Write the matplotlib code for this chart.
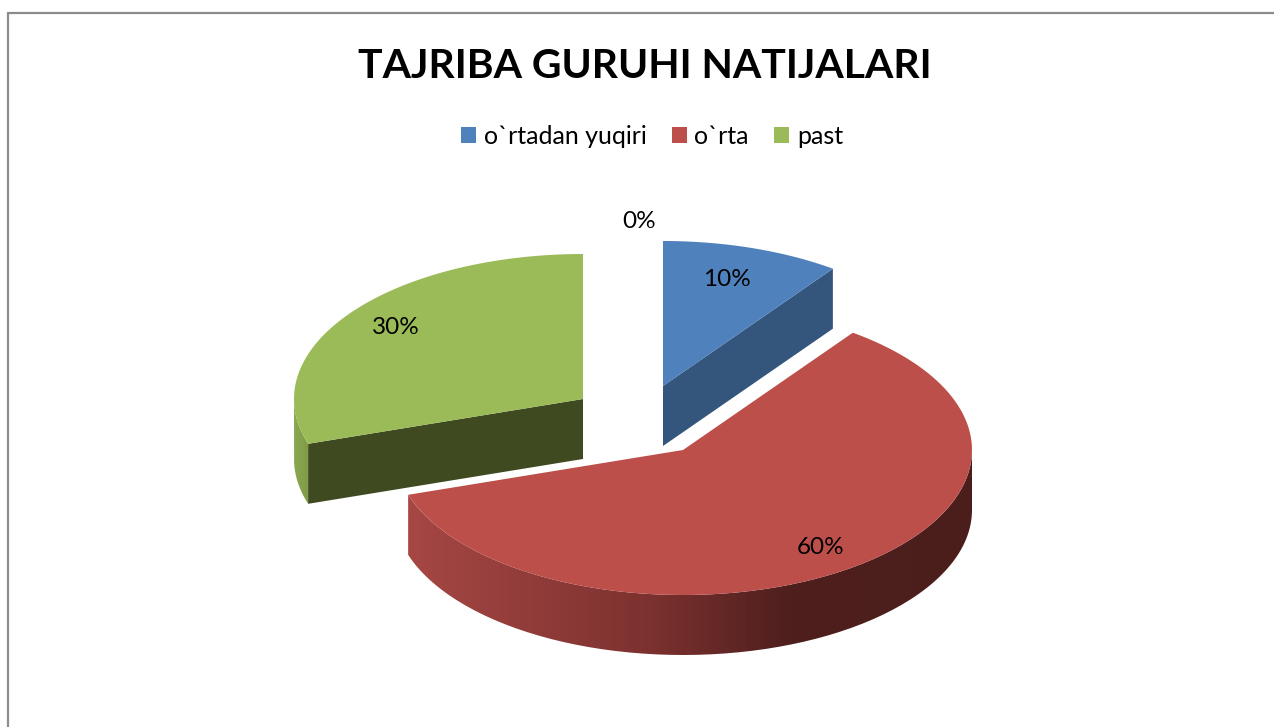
import numpy as np
import matplotlib
matplotlib.use("Agg")
import matplotlib.pyplot as plt
from matplotlib.colors import LinearSegmentedColormap
from matplotlib.patches import Patch, PathPatch, Polygon
from matplotlib.path import Path

categories = ["o`rtadan yuqiri", "o`rta", "past"]
values = [10, 60, 30]
# the extra zero slice only shows up as a label in the chart
label_values = [0, 10, 60, 30]

colors = ["#4f81bd", "#bd4f4b", "#9bbb59"]
face_colors = ["#34567d", None, "#3f4a20"]

# layout in image pixels
W, H = 1274, 727
A, B = 289, 145
DEPTH = 60
apex = [(663, 386), (683, 450), (583, 399)]
label_pos = [(639, 221), (727, 279), (821, 548), (396, 328)]


def rim(cx, cy, a0, a1, n=120):
    # angles are clockwise from 12 o'clock
    t = np.radians(np.linspace(a0, a1, n))
    return np.column_stack([cx + A * np.sin(t), cy - B * np.cos(t)])


def shaded_side(ax, pts, stops):
    cmap = LinearSegmentedColormap.from_list("side", stops)
    x0, x1 = pts[:, 0].min(), pts[:, 0].max()
    y0, y1 = pts[:, 1].min(), pts[:, 1].max()
    grad = np.linspace(0, 1, 256).reshape(1, -1)
    im = ax.imshow(grad, cmap=cmap, extent=(x0, x1, y1, y0), aspect="auto", zorder=2)
    clip = PathPatch(Path(np.vstack([pts, pts[0]])), transform=ax.transData)
    im.set_clip_path(clip)


fig = plt.figure(figsize=(W / 100, H / 100), dpi=100)
ax = fig.add_axes([0, 0, 1, 1])
plt.rcParams["font.family"] = ["Lato", "DejaVu Sans"]

# slice angles from the values
ends = np.cumsum(values) / np.sum(values) * 360
starts = np.concatenate([[0], ends[:-1]])

for i in range(len(values)):
    cx, cy = apex[i]
    a0, a1 = starts[i], ends[i]

    # outer wall, only the front half of the rim can be seen
    f0, f1 = max(a0, 90), min(a1, 270)
    if f1 > f0:
        top = rim(cx, cy, f0, f1)
        bottom = top[::-1] + [0, DEPTH]
        wall = np.vstack([top, bottom])
        if i == 1:
            shaded_side(ax, wall, [(0, "#a64744"), (0.42, "#7d3230"), (0.68, "#4e1f1d"), (1, "#4b1e1c")])
        else:
            shaded_side(ax, wall, [(0, "#8aa850"), (1, "#7f9a48")])

    # cut face
    if face_colors[i]:
        edge = rim(cx, cy, a1, a1, 1)[0] if i == 0 else rim(cx, cy, a0, a0, 1)[0]
        face = [(cx, cy), edge, edge + [0, DEPTH], (cx, cy + DEPTH)]
        ax.add_patch(Polygon(face, closed=True, facecolor=face_colors[i], edgecolor="none", zorder=3))

    # top
    top_pts = np.vstack([[(cx, cy)], rim(cx, cy, a0, a1)])
    ax.add_patch(Polygon(top_pts, closed=True, facecolor=colors[i], edgecolor="none", zorder=4))

for v, (x, y) in zip(label_values, label_pos):
    ax.text(x, y, f"{v}%", ha="center", va="center", fontsize=17.5, color="black", zorder=5)

ax.text(645, 66, "TAJRIBA GURUHI NATIJALARI", ha="center", va="center",
        fontsize=29.4, fontweight="bold", color="black")

handles = [Patch(facecolor=c, edgecolor="none") for c in colors]
fig.legend(handles, categories, loc="center", bbox_to_anchor=(652 / W, 1 - 136 / H), ncol=3,
           frameon=False, fontsize=18, handlelength=0.6, handleheight=0.6,
           handletextpad=0.3, columnspacing=1.02)

# chart frame, cut off on the right and at the bottom
ax.plot([8, 8, W], [H, 12.5, 12.5], color="#8c8c8c", linewidth=1.6, solid_joinstyle="miter", zorder=1)

ax.set_xlim(0, W)
ax.set_ylim(H, 0)
ax.axis("off")

fig.savefig("out.png", dpi=100, facecolor="white")
plt.close(fig)
